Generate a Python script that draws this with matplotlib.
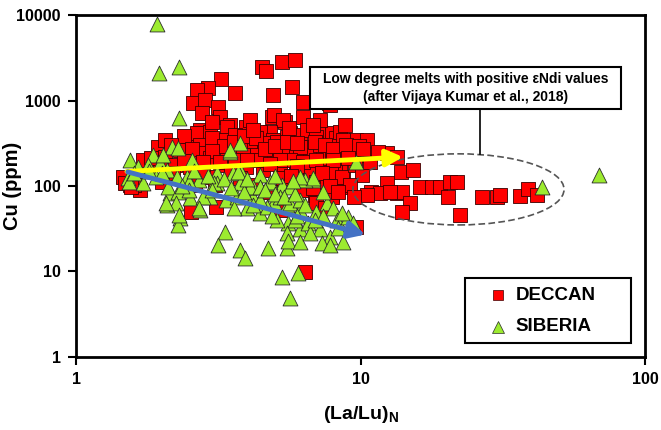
import matplotlib
matplotlib.use("Agg")
import matplotlib.pyplot as plt
from matplotlib.patches import Rectangle, Ellipse

plt.rcParams['font.family'] = ['Liberation Sans', 'DejaVu Sans']
plt.rcParams['font.weight'] = 'bold'
plt.rcParams['mathtext.fontset'] = 'custom'
plt.rcParams['mathtext.bf'] = 'Liberation Sans:bold'
plt.rcParams['mathtext.rm'] = 'Liberation Sans:bold'

# DECCAN (La/Lu)N vs Cu (ppm)
deccan_x = [4.5, 4.65, 5.3, 5.9, 3.23, 2.91, 2.67, 3.62, 5.74, 4.93, 6.28, 7.75, 2.57, 2.84, 2.77, 3.16,
            3.21, 4.89, 5.43, 6.28, 2.73, 3.48, 3.96, 4.97, 5.34, 7.81,
            3.40, 4.81, 5.65, 6.13, 7.20, 7.94, 8.2, 9.6, 10.5, 2.46, 2.67, 2.96, 3.13, 4.43, 4.93, 5.51,
            6.5, 7.0, 8.47, 8.68,
            3.29, 4.19, 4.54, 5.09, 5.51, 6.5, 7.0, 9.4, 1.94, 4.09, 3.77, 2.73,
            3.39, 3.86, 4.33, 4.81, 5.34, 5.93, 6.65, 7.38, 7.94, 8.96, 10.5, 2.06, 2.73, 2.96, 2.42,
            1.72, 1.97, 1.84,
            3.96, 4.54, 5.21, 5.93, 6.65, 7.6, 8.47, 2.52, 2.96, 1.46,
            5.34, 5.93, 7.0, 8.14, 8.68, 8.47, 1.55, 1.68, 1.49, 1.60, 1.56,
            6.28, 6.92, 7.94, 7.0, 7.5, 9.6, 2.54, 3.10, 5.21, 6.38,
            12.4, 13.4, 8.25, 7.9, 8.6, 7.94,
            13.9, 15.3, 10.9, 12.4, 13.4, 14.0, 16.2, 17.8, 19.0, 20.6, 21.8, 20.3, 11.7, 12.7, 14.9,
            14.0, 22.4, 26.7, 30.1, 30.9, 36.4, 38.9, 41.7, 10.5,
            4.26, 4.81, 3.77, 3.34, 2.23, 2.32, 2.06, 3.62, 4.09, 7.2, 8.8, 9.57, 10.1, 9.2, 7.2, 6.13,
            5.65, 4.43, 3.62, 3.08, 2.62,
            2.40, 2.15, 2.55, 3.0, 3.3, 3.6, 3.9, 4.3, 4.6, 5.0, 5.5, 6.0, 6.9, 7.5, 8.0, 8.9, 9.9,
            3.0, 5.2, 6.3, 7.0, 8.0, 9.0, 10.8, 11.5, 10.2, 4.0, 3.2, 2.8, 2.4, 6.0, 7.3, 4.8, 3.5,
            2.2, 2.0, 2.8, 5.7, 6.8, 7.8, 8.3, 9.5, 4.2, 5.6, 6.8, 3.0]
deccan_y = [2460, 2200, 2800, 3000, 1780, 1400, 1330, 1220, 1440, 1160, 960, 935, 935, 1010, 714, 839,
            641, 641, 561, 641, 452, 517, 490, 676, 591, 885,
            490, 428, 417, 395, 428, 417, 364, 345, 345, 345, 417, 428, 318, 428, 345, 374,
            452, 374, 428, 345,
            345, 327, 318, 327, 286, 286, 278, 264, 286, 318, 278, 302,
            243, 230, 230, 250, 230, 230, 230, 243, 230, 243, 230, 218, 243, 212, 230,
            201, 191, 212,
            167, 154, 154, 154, 146, 167, 176, 167, 127, 127,
            124, 111, 111, 146, 124, 97, 103, 90, 108, 103, 97,
            90, 79, 79, 63, 55, 33, 50, 57, 52, 9.9,
            243, 218, 243, 146, 127, 74,
            146, 154, 85, 108, 83, 85, 97, 97, 97, 111, 111, 74, 83, 85, 63,
            50, 46, 74, 74, 79, 76, 92, 79, 79,
            103, 85, 124, 176, 176, 264, 345, 395, 591, 591, 517, 176, 134, 103, 302, 286,
            201, 201, 201, 103, 103,
            380, 300, 270, 360, 290, 330, 380, 360, 270, 290, 330, 320, 330, 300, 270, 300, 290,
            260, 200, 190, 200, 200, 210, 190, 250, 270, 200, 190, 190, 195, 170, 140, 180, 150,
            140, 110, 130, 130, 95, 100, 85, 75, 450, 480, 520, 560]

# SIBERIA
siberia_x = [1.93, 1.96, 2.30, 2.30,
             1.55, 1.52, 1.72, 1.86, 2.17, 2.28, 2.55, 1.97, 2.09, 2.26, 2.46, 2.09, 2.32, 2.28, 2.73,
             2.52, 2.14, 3.13, 3.48, 3.77, 3.56, 3.77, 4.19, 4.43, 4.81, 3.99, 4.43, 4.97, 5.30, 5.65,
             5.51, 6.13, 5.55, 5.51, 6.13, 6.53, 6.8, 7.6, 7.97, 8.25, 7.2, 7.8, 9.0, 5.9, 5.1, 4.69,
             4.19, 3.77, 3.13, 2.96, 3.37, 3.68, 1.65, 1.79, 2.02, 2.71, 1.91, 2.11, 2.28, 2.50, 3.06,
             2.80, 2.24, 2.71, 2.30,
             3.34, 3.15, 3.77, 3.93, 4.73, 5.30, 6.03, 5.65, 5.51, 5.55, 6.13, 6.65, 7.3, 7.8, 8.68, 9.4,
             1.54, 2.07,
             3.48, 3.72, 4.09, 4.43, 4.81, 6.38, 6.8, 9.6, 4.43, 5.21, 5.65, 6.13, 8.6, 6.13,
             2.6, 2.9, 3.3, 3.0, 3.5, 3.9, 4.6, 5.0, 5.4, 5.9, 6.4, 7.0, 7.4, 6.9, 8.3, 6.0, 4.9, 4.2,
             3.6, 2.5, 2.0, 1.8, 1.6, 2.35, 4.0, 5.0, 5.8, 7.4,
             43.5, 68.9]
siberia_y = [7800, 2100, 2460, 624,
             201, 124, 108, 230, 286, 278, 201, 186, 154, 127, 127, 60, 42, 35, 52,
             72, 83, 142, 250, 318, 142, 108, 74, 134, 108, 55, 48, 65, 103, 97,
             60, 52, 37, 28, 31, 37, 118, 63, 55, 40, 31, 25, 43, 40, 40, 57,
             97, 154, 108, 74, 69, 74, 167, 176, 230, 118, 127, 97, 85, 111, 108,
             74, 63, 55, 46,
             29, 20.4, 17.8, 14.4, 18.8, 8.6, 9.6, 4.9, 18.8, 23, 22, 28, 21.5, 20.4, 22, 37,
             111, 63,
             264, 146, 97, 97, 111, 118, 124, 191, 69, 74, 63, 69, 48, 127,
             150, 130, 120, 90, 95, 85, 90, 80, 75, 80, 60, 50, 45, 40, 32, 45, 45, 60,
             55, 90, 140, 150, 140, 100, 120, 130, 115, 85,
             97, 134]

# trend arrows (tail, head)
yellow_tail = (1.51, 148)
yellow_head = (14.1, 218)
blue_tail = (1.52, 146)
blue_head = (10.4, 27)

fig = plt.figure(figsize=(6.61, 4.30), dpi=100)
ax = fig.add_axes([0.115, 0.170, 0.861, 0.795])

ax.scatter(deccan_x, deccan_y, marker='s', s=105, c='#FF0000', edgecolors='#3a0000',
           linewidths=0.6, zorder=3)
ax.scatter(siberia_x, siberia_y, marker='^', s=115, c='#9CEB2F', edgecolors='#2b2b2b',
           linewidths=0.6, zorder=4)

ax.annotate('', xy=yellow_head, xytext=yellow_tail, zorder=6,
            arrowprops=dict(arrowstyle='-|>,head_length=0.9,head_width=0.45', color='#FFFF00',
                            lw=3.5, mutation_scale=11, shrinkA=0, shrinkB=0))
ax.annotate('', xy=blue_head, xytext=blue_tail, zorder=6,
            arrowprops=dict(arrowstyle='-|>,head_length=0.9,head_width=0.45', color='#4472C4',
                            lw=3.5, mutation_scale=11, shrinkA=0, shrinkB=0))

ax.set_xscale('log')
ax.set_yscale('log')
ax.set_xlim(1, 100)
ax.set_ylim(1, 10000)
ax.set_xticks([1, 10, 100])
ax.set_xticklabels(['1', '10', '100'])
ax.set_yticks([1, 10, 100, 1000, 10000])
ax.set_yticklabels(['1', '10', '100', '1000', '10000'])
ax.minorticks_off()
ax.tick_params(direction='out', length=6, width=1.5, labelsize=11.5, pad=5)
for sp in ax.spines.values():
    sp.set_linewidth(2)

ax.set_ylabel('Cu (ppm)', fontsize=14.5, fontweight='bold')
ax.yaxis.set_label_coords(-0.095, 0.5)
ax.set_xlabel(r'(La/Lu)$_{\mathbf{N}}$', fontsize=14, fontweight='bold', labelpad=12)

# dashed ellipse around the low degree melts
ax.add_patch(Ellipse((0.672, 0.490), 0.371, 0.208, transform=ax.transAxes, fill=False,
                     edgecolor='#555555', lw=1.2, linestyle=(0, (4, 2)), zorder=5))
ax.plot([0.710, 0.710], [0.725, 0.594], transform=ax.transAxes, color='black', lw=1.2, zorder=5)

# annotation box
ax.add_patch(Rectangle((0.411, 0.725), 0.547, 0.123, transform=ax.transAxes, facecolor='white',
                       edgecolor='black', lw=1.5, zorder=7))
ax.text(0.685, 0.787, 'Low degree melts with positive εNdi values\n(after Vijaya Kumar et al., 2018)',
        transform=ax.transAxes, ha='center', va='center', fontsize=10, fontweight='bold',
        linespacing=1.3, zorder=8)

# legend box
ax.add_patch(Rectangle((0.684, 0.041), 0.291, 0.190, transform=ax.transAxes, facecolor='white',
                       edgecolor='black', lw=1.5, zorder=7))
ax.plot([0.742], [0.181], marker='s', ms=7.5, color='#FF0000', mec='#3a0000', mew=0.5,
        transform=ax.transAxes, zorder=8)
ax.plot([0.742], [0.088], marker='^', ms=8, color='#9CEB2F', mec='#2b2b2b', mew=0.5,
        transform=ax.transAxes, zorder=8)
ax.text(0.772, 0.181, 'DECCAN', transform=ax.transAxes, ha='left', va='center',
        fontsize=13.5, fontweight='bold', zorder=8)
ax.text(0.772, 0.088, 'SIBERIA', transform=ax.transAxes, ha='left', va='center',
        fontsize=13.5, fontweight='bold', zorder=8)

fig.savefig('out.png', dpi=100)
